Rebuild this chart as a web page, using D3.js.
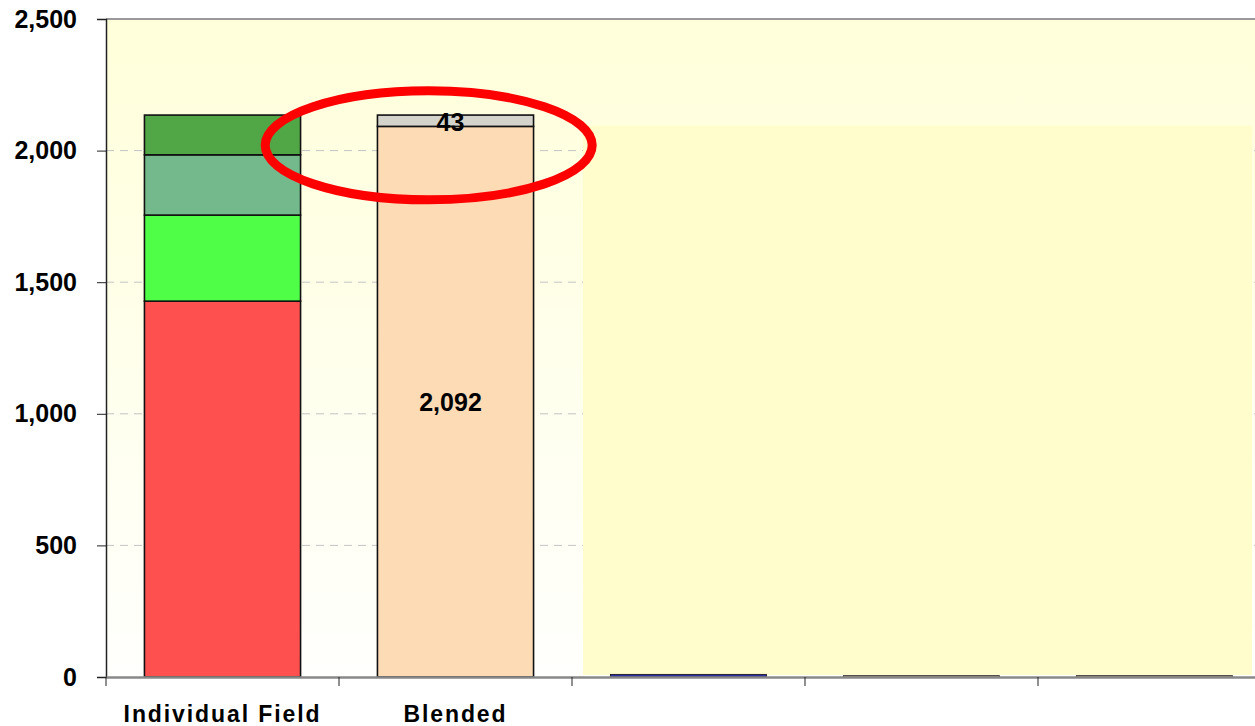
<!DOCTYPE html>
<html>
<head>
<meta charset="utf-8">
<script src="https://cdn.jsdelivr.net/npm/d3@7"></script>
<style>
  html, body { margin: 0; padding: 0; background: #fff; }
  svg { display: block; }
  text { font-family: "Liberation Sans", Arial, sans-serif; font-weight: bold; }
</style>
</head>
<body>
<svg id="chart" width="1255" height="726"></svg>
<script>
// categories on the x axis (last three are empty slots)
const categories = ["Individual Field", "Blended", "c3", "c4", "c5"];
const categoryLabels = ["Individual Field", "Blended", "", "", ""];

// stacked series, bottom to top
const seriesNames = ["red", "green", "teal", "darkGreen", "blue", "peach", "grey"];
const redVals       = [1428, 0, 0, 0, 0];
const greenVals     = [327, 0, 0, 0, 0];
const tealVals      = [229, 0, 0, 0, 0];
const darkGreenVals = [151, 0, 0, 0, 0];
const blueVals      = [0, 0, 10, 0, 0];
const peachVals     = [0, 2092, 0, 5, 5];
const greyVals      = [0, 43, 0, 0, 0];

const yTicks = [0, 500, 1000, 1500, 2000, 2500];

const colors = {
    red: "#FF5050",
    green: "#4FFF47",
    teal: "#74B98C",
    darkGreen: "#51A646",
    blue: "#2B2BA6",
    peach: "#FDDBB5",
    grey: "#D4D4CC"
};

let svg = d3.select("#chart");

let plotLeft = 106, plotTop = 19, plotBottom = 677, plotRight = 1271;

let x = d3.scaleBand().domain(categories).range([plotLeft, plotRight]).padding(0);
let y = d3.scaleLinear().domain([0, 2500]).range([plotBottom, plotTop]);

let table = categories.map((c, i) => ({
    cat: c,
    red: redVals[i], green: greenVals[i], teal: tealVals[i], darkGreen: darkGreenVals[i],
    blue: blueVals[i], peach: peachVals[i], grey: greyVals[i]
}));
let stacked = d3.stack().keys(seriesNames)(table);

// plot background gradient
let defs = svg.append("defs");
let grad = defs.append("linearGradient").attr("id", "bg").attr("x1", 0).attr("y1", 0).attr("x2", 0).attr("y2", 1);
grad.append("stop").attr("offset", "0%").attr("stop-color", "#FFFFDA");
grad.append("stop").attr("offset", "100%").attr("stop-color", "#FFFFFD");

svg.append("rect")
    .attr("x", plotLeft).attr("y", plotTop)
    .attr("width", plotRight - plotLeft).attr("height", plotBottom - plotTop)
    .attr("fill", "url(#bg)");

// dashed gridlines
svg.append("g")
    .selectAll("line")
    .data(yTicks.filter(t => t > 0 && t < 2500))
    .enter()
    .append("line")
    .attr("x1", plotLeft).attr("x2", plotRight)
    .attr("y1", d => y(d)).attr("y2", d => y(d))
    .attr("stroke", "#C4C4C4")
    .attr("stroke-width", 1)
    .attr("stroke-dasharray", "8,6");

// yellow cover box over the empty categories
let coverX = x("c3") + x.bandwidth() * 0.047;
svg.append("rect")
    .attr("x", coverX)
    .attr("y", y(2095))
    .attr("width", 1252 - coverX)
    .attr("height", y(8) - y(2095))
    .attr("fill", "#FFFDCB");

// top border
svg.append("line")
    .attr("x1", plotLeft).attr("x2", 1255)
    .attr("y1", plotTop).attr("y2", plotTop)
    .attr("stroke", "#9A9A9A").attr("stroke-width", 2);

// bars
let barW = x.bandwidth() * 0.67;
let off = (x.bandwidth() - barW) / 2;

svg.append("g")
    .selectAll("g")
    .data(stacked)
    .enter()
    .append("g")
    .attr("fill", d => colors[d.key])
    .selectAll("rect")
    .data(d => d.filter(s => s[1] - s[0] > 0))
    .enter()
    .append("rect")
    .attr("x", d => x(d.data.cat) + off)
    .attr("y", d => y(d[1]))
    .attr("width", barW)
    .attr("height", d => y(d[0]) - y(d[1]))
    .attr("stroke", "#111")
    .attr("stroke-width", d => (y(d[0]) - y(d[1]) < 4 ? 0.8 : 1.6));

// y axis
let yAxis = svg.append("g")
    .attr("transform", `translate(${plotLeft},0)`)
    .call(d3.axisLeft(y).tickValues(yTicks).tickSize(9).tickPadding(20).tickFormat(d3.format(",")));
yAxis.select(".domain").attr("stroke", "#222").attr("stroke-width", 1.5);
yAxis.selectAll(".tick line").attr("stroke", "#222");
yAxis.selectAll("text")
    .style("font-size", "25px")
    .attr("fill", "#000");

// x axis: labels
let xAxis = svg.append("g")
    .attr("transform", `translate(0,${plotBottom})`)
    .call(d3.axisBottom(x).tickSize(0).tickPadding(29).tickFormat((d, i) => categoryLabels[i]));
xAxis.select(".domain").attr("stroke", "#888").attr("stroke-width", 2.5);
xAxis.selectAll("text")
    .style("font-size", "23px")
    .style("letter-spacing", "1.9px")
    .attr("fill", "#000");

// x axis: boundary ticks
svg.append("g")
    .selectAll("line")
    .data(categories)
    .enter()
    .append("line")
    .attr("x1", d => x(d)).attr("x2", d => x(d))
    .attr("y1", plotBottom).attr("y2", plotBottom + 9)
    .attr("stroke", "#222").attr("stroke-width", 1);

// value labels on the blended bar
let bx = x("Blended") + x.bandwidth() / 2 - 5;
svg.append("text")
    .attr("x", bx).attr("y", y(2092 / 2))
    .attr("text-anchor", "middle").attr("dominant-baseline", "central")
    .style("font-size", "25px").text(d3.format(",")(2092));
svg.append("text")
    .attr("x", bx).attr("y", y(2092 + 43 / 2) + 1)
    .attr("text-anchor", "middle").attr("dominant-baseline", "central")
    .style("font-size", "25px").text("43");

// red highlight ellipse
svg.append("ellipse")
    .attr("cx", x("Blended") + x.bandwidth() * 0.385)
    .attr("cy", y(2020))
    .attr("rx", 163.5).attr("ry", 54.5)
    .attr("fill", "none")
    .attr("stroke", "#FF0000")
    .attr("stroke-width", 9);
</script>
</body>
</html>
